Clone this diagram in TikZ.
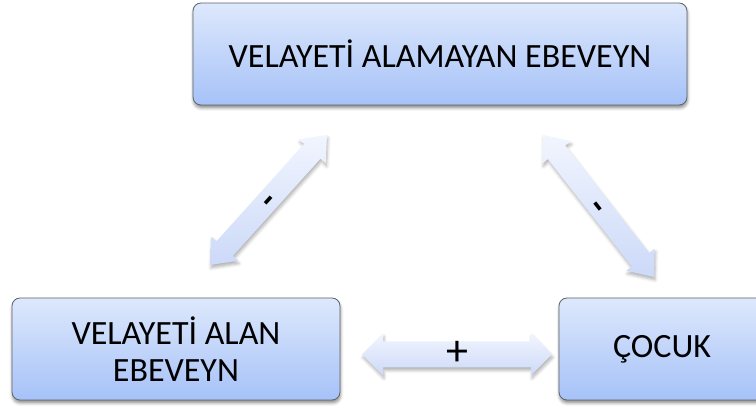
\documentclass[tikz,border=0pt]{standalone}
\usepackage{fontspec}
\setmainfont{Carlito}
\usetikzlibrary{calc,shadows.blur}

\definecolor{boxtop}{HTML}{DDE8FC}
\definecolor{boxbot}{HTML}{A6C2F8}
\definecolor{boxline}{HTML}{5F6368}
\definecolor{arrtop}{HTML}{F1F5FE}
\definecolor{arrbot}{HTML}{CCD9F8}

% Block double arrow between two named points:
% #1 start, #2 end, #3 half shaft width, #4 half head width, #5 head length
\newcommand{\blockarrow}[5]{%
  \path[arrowbody] (#1)
    -- ($(#1)!#5!(#2)!#4!90:(#2)$) -- ($(#1)!#5!(#2)!#3!90:(#2)$)
    -- ($(#2)!#5!(#1)!#3!-90:(#1)$) -- ($(#2)!#5!(#1)!#4!-90:(#1)$)
    -- (#2)
    -- ($(#2)!#5!(#1)!#4!90:(#1)$) -- ($(#2)!#5!(#1)!#3!90:(#1)$)
    -- ($(#1)!#5!(#2)!#3!-90:(#2)$) -- ($(#1)!#5!(#2)!#4!-90:(#2)$)
    -- cycle;}

\tikzset{
  box/.style={rectangle, rounded corners=8pt, draw=boxline, line width=0.8pt,
    top color=boxtop, bottom color=boxbot, minimum height=102pt,
    inner sep=0pt, align=center, font=\fontsize{34}{37}\selectfont,
    blur shadow={shadow xshift=0.5pt, shadow yshift=-3pt,
      shadow blur radius=3pt, shadow opacity=45}},
  arrowbody/.style={top color=arrtop, bottom color=arrbot,
    blur shadow={shadow xshift=1pt, shadow yshift=-3pt,
      shadow blur radius=3pt, shadow opacity=30}},
  % box height chosen so that the hyphen bar sits on the node centre
  sign/.style={font=\fontsize{36}{37}\selectfont\bfseries, inner sep=0pt,
    text height=21pt, text depth=0pt},
  plussign/.style={font=\fontsize{44}{46}\selectfont, inner sep=0pt}
}

\begin{document}
\begin{tikzpicture}[x=1pt, y=1pt]
  \path[use as bounding box] (0,0) rectangle (756,406);
  \clip (0,0) rectangle (756,406);

  % the three parties
  \node[box, minimum width=494pt] (noncust) at (440,352) {VELAYETİ ALAMAYAN EBEVEYN};
  \node[box, minimum width=328pt] (cust) at (176,57) {VELAYETİ ALAN\\EBEVEYN};
  \node[box, minimum width=206pt] (child) at (662,57) {ÇOCUK};

  % end points of the relation arrows
  \coordinate (l1) at (210,141);
  \coordinate (l2) at (327,271);
  \coordinate (r1) at (543,271);
  \coordinate (r2) at (654,129);
  \coordinate (h1) at (362,51.5);
  \coordinate (h2) at (552,51.5);

  \blockarrow{l1}{l2}{11pt}{18pt}{22pt}
  \blockarrow{r1}{r2}{11pt}{18pt}{22pt}
  \blockarrow{h1}{h2}{13pt}{21pt}{21pt}

  % relation signs
  \path (l1) -- node[sign, sloped] (lsign) {-} (l2);
  \path (r1) -- node[sign, sloped] (rsign) {-} (r2);
  \node[plussign] (hsign) at (457,53) {+};
\end{tikzpicture}
\end{document}
